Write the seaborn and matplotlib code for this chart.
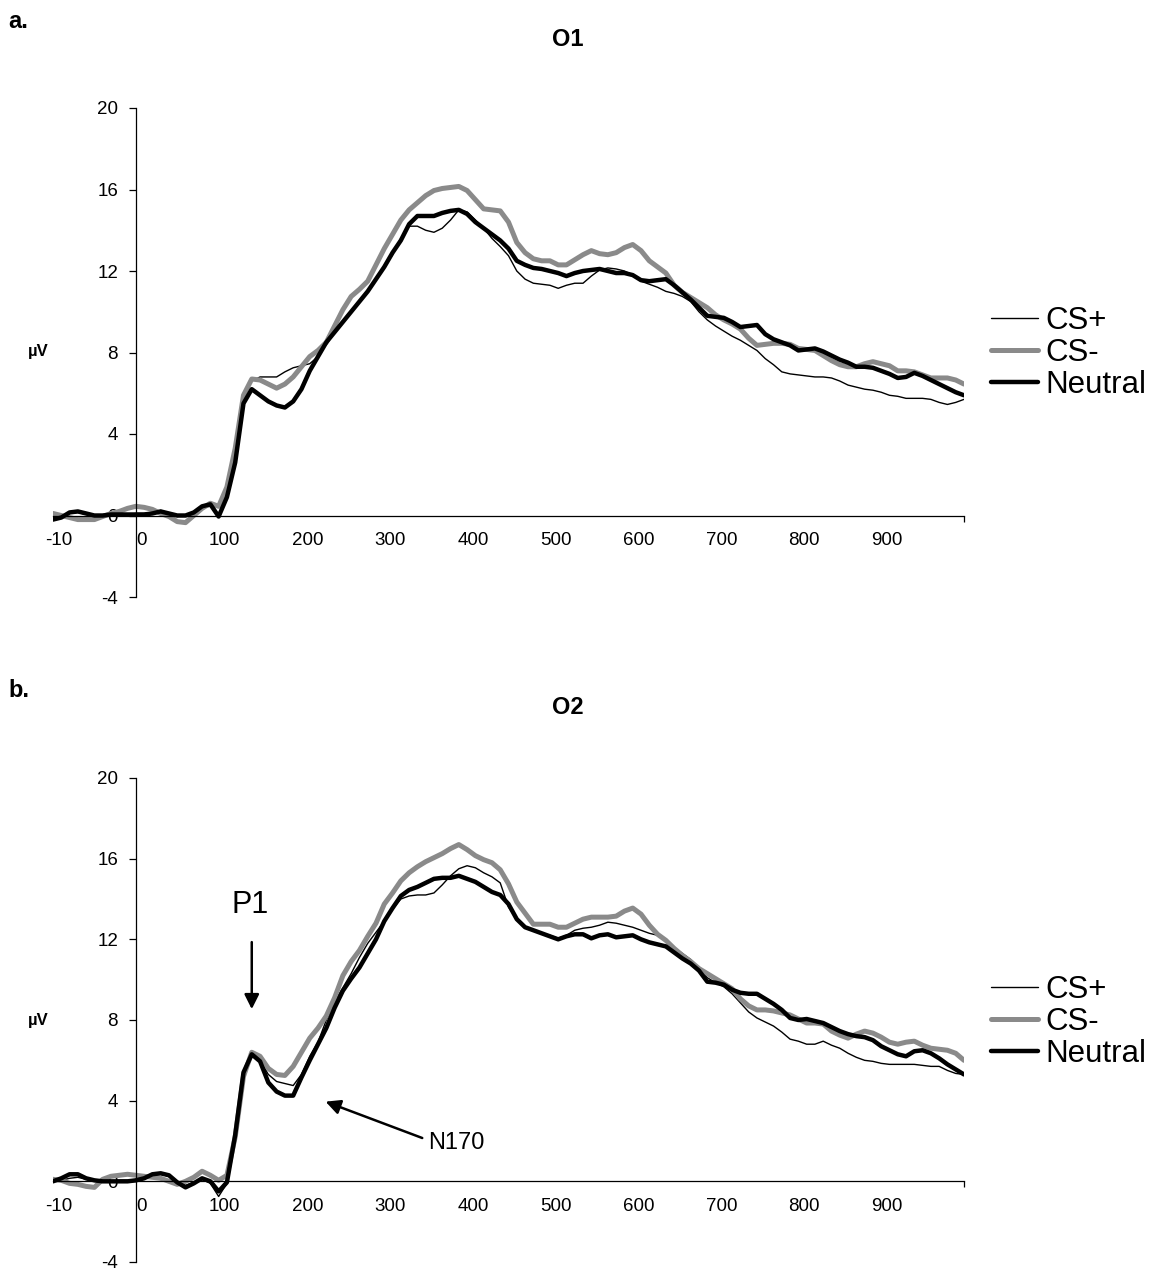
import numpy as np
import pandas as pd
import matplotlib
matplotlib.use("Agg")
import matplotlib.pyplot as plt
import matplotlib.transforms as mtransforms
import seaborn as sns

# time axis in ms (every 10 ms)
time_ms = list(range(-100, 1001, 10))

x_tick_pos = [-100, 0, 100, 200, 300, 400, 500, 600, 700, 800, 900]
x_tick_labels = ["-10", "0", "100", "200", "300", "400", "500", "600", "700", "800", "900"]
y_ticks = [-4, 0, 4, 8, 12, 16, 20]
conditions = ["CS+", "CS-", "Neutral"]

# O1 (panel a), values in microvolts
o1_cs_plus = [
    -0.1, -0.05, 0.1, 0.15, 0.05, 0.0, 0.0, 0.05, 0.05, 0.05,
    0.1, 0.1, 0.15, 0.25, 0.1, -0.05, 0.0, 0.15, 0.4, 0.45,
    0.0, 1.0, 3.0, 6.0, 6.6, 6.8, 6.8, 6.8, 7.05, 7.25,
    7.35, 7.45, 7.8, 8.4, 9.0, 9.5, 10.0, 10.5, 11.0, 11.6,
    12.2, 12.8, 13.6, 14.2, 14.2, 14.0, 13.9, 14.1, 14.5, 15.0,
    14.9, 14.5, 14.1, 13.6, 13.2, 12.75, 12.0, 11.6, 11.4, 11.35,
    11.3, 11.15, 11.3, 11.4, 11.4, 11.75, 12.05, 12.15, 12.1, 12.0,
    11.8, 11.5, 11.35, 11.2, 11.0, 10.9, 10.75, 10.5, 10.0, 9.6,
    9.3, 9.05, 8.8, 8.6, 8.35, 8.1, 7.7, 7.4, 7.05, 6.95,
    6.9, 6.85, 6.8, 6.8, 6.75, 6.6, 6.4, 6.3, 6.2, 6.15,
    6.05, 5.9, 5.85, 5.75, 5.75, 5.75, 5.7, 5.55, 5.45, 5.55,
    5.7,
]
o1_cs_minus = [
    0.1, 0.0, -0.1, -0.2, -0.2, -0.2, -0.05, 0.1, 0.2, 0.35,
    0.45, 0.4, 0.3, 0.1, -0.05, -0.3, -0.35, 0.0, 0.35, 0.6,
    0.45, 1.4, 3.3, 5.9, 6.7, 6.65, 6.45, 6.25, 6.45, 6.8,
    7.3, 7.8, 8.1, 8.5, 9.3, 10.1, 10.75, 11.1, 11.5, 12.3,
    13.1, 13.8, 14.5, 15.0, 15.35, 15.7, 15.95, 16.05, 16.1, 16.15,
    15.95, 15.5, 15.05, 15.0, 14.95, 14.4, 13.4, 12.9, 12.6, 12.5,
    12.5, 12.3, 12.3, 12.55, 12.8, 13.0, 12.85, 12.8, 12.9, 13.15,
    13.3, 13.0, 12.5, 12.2, 11.9, 11.3, 10.95, 10.7, 10.45, 10.2,
    9.85, 9.6, 9.4, 9.15, 8.7, 8.35, 8.4, 8.45, 8.45, 8.4,
    8.2, 8.15, 8.1, 7.85, 7.6, 7.4, 7.3, 7.3, 7.45, 7.55,
    7.45, 7.35, 7.1, 7.1, 7.05, 6.9, 6.75, 6.75, 6.75, 6.65,
    6.45,
]
o1_neutral = [
    -0.2, -0.1, 0.15, 0.2, 0.1, 0.0, 0.0, 0.05, 0.05, 0.05,
    0.05, 0.05, 0.1, 0.2, 0.1, 0.0, 0.0, 0.15, 0.45, 0.55,
    -0.05, 0.9, 2.6, 5.5, 6.2, 5.9, 5.6, 5.4, 5.3, 5.6,
    6.2, 7.1, 7.8, 8.5, 9.0, 9.5, 10.0, 10.5, 11.0, 11.6,
    12.2, 12.9, 13.5, 14.3, 14.7, 14.7, 14.7, 14.85, 14.95, 15.0,
    14.8, 14.4, 14.1, 13.8, 13.5, 13.1, 12.5, 12.3, 12.15, 12.1,
    12.0, 11.9, 11.75, 11.9, 12.0, 12.05, 12.1, 12.0, 11.9, 11.9,
    11.8, 11.55, 11.5, 11.55, 11.6, 11.3, 10.95, 10.6, 10.2, 9.8,
    9.75, 9.7, 9.5, 9.25, 9.3, 9.35, 8.9, 8.65, 8.5, 8.35,
    8.1, 8.15, 8.2, 8.05, 7.85, 7.65, 7.5, 7.3, 7.3, 7.25,
    7.1, 6.95, 6.75, 6.8, 7.0, 6.85, 6.65, 6.45, 6.25, 6.05,
    5.9,
]

# O2 (panel b)
o2_cs_plus = [
    0.0, 0.05, 0.15, 0.2, 0.1, 0.0, 0.0, 0.0, 0.05, 0.05,
    0.05, 0.1, 0.3, 0.35, 0.25, 0.0, -0.2, -0.05, 0.1, -0.1,
    -0.75, -0.1, 2.3, 5.5, 6.3, 6.0, 5.3, 4.95, 4.85, 4.75,
    5.3, 6.2, 6.9, 8.0, 8.9, 9.6, 10.3, 11.1, 11.8, 12.35,
    12.9, 13.5, 14.0, 14.15, 14.2, 14.2, 14.3, 14.7, 15.15, 15.5,
    15.65, 15.55, 15.3, 15.1, 14.8, 13.6, 13.0, 12.6, 12.45, 12.3,
    12.2, 12.05, 12.2, 12.45, 12.55, 12.6, 12.7, 12.85, 12.8, 12.7,
    12.6, 12.45, 12.3, 12.2, 11.9, 11.6, 11.3, 11.0, 10.55, 10.1,
    9.85, 9.65, 9.3, 8.85, 8.4, 8.1, 7.9, 7.7, 7.4, 7.05,
    6.95, 6.8, 6.8, 6.95, 6.75, 6.6, 6.35, 6.15, 6.0, 5.95,
    5.85, 5.8, 5.8, 5.8, 5.8, 5.75, 5.7, 5.7, 5.5, 5.35,
    5.3,
]
o2_cs_minus = [
    0.1, 0.05, -0.1, -0.15, -0.25, -0.3, 0.1, 0.25, 0.3, 0.35,
    0.3, 0.25, 0.2, 0.15, 0.0, -0.15, 0.0, 0.2, 0.5, 0.3,
    0.05, 0.3, 2.2, 5.2, 6.4, 6.2, 5.6, 5.3, 5.25, 5.7,
    6.4, 7.1, 7.6, 8.2, 9.1, 10.2, 10.9, 11.45, 12.15, 12.8,
    13.75, 14.3, 14.9, 15.3, 15.6, 15.85, 16.05, 16.25, 16.5, 16.7,
    16.45, 16.15, 15.95, 15.8, 15.45, 14.75, 13.85, 13.3, 12.75, 12.75,
    12.75, 12.6, 12.6, 12.8, 13.0, 13.1, 13.1, 13.1, 13.15, 13.4,
    13.55, 13.25, 12.7, 12.25, 11.95, 11.55, 11.2, 10.9, 10.55, 10.3,
    10.05, 9.8, 9.55, 9.05, 8.7, 8.5, 8.5, 8.45, 8.35, 8.25,
    8.05, 7.85, 7.85, 7.8, 7.45, 7.25, 7.1, 7.3, 7.45, 7.35,
    7.15, 6.9, 6.8, 6.9, 6.95, 6.75, 6.6, 6.55, 6.5, 6.35,
    6.0,
]
o2_neutral = [
    0.0, 0.15, 0.35, 0.35, 0.15, 0.05, 0.0, 0.0, 0.0, 0.0,
    0.05, 0.15, 0.35, 0.4, 0.3, -0.05, -0.3, -0.1, 0.15, 0.0,
    -0.5, -0.05, 2.3, 5.4, 6.3, 5.95, 4.9, 4.45, 4.25, 4.25,
    5.15, 6.0, 6.8, 7.6, 8.6, 9.45, 10.05, 10.6, 11.3, 12.0,
    12.9, 13.55, 14.15, 14.45, 14.6, 14.8, 15.0, 15.05, 15.05, 15.15,
    15.0, 14.85, 14.6, 14.35, 14.2, 13.75, 13.0, 12.6, 12.45, 12.3,
    12.15, 12.0, 12.15, 12.25, 12.25, 12.05, 12.2, 12.25, 12.1, 12.15,
    12.2, 12.0, 11.85, 11.75, 11.65, 11.35, 11.05, 10.8, 10.45, 9.9,
    9.85, 9.75, 9.5, 9.35, 9.3, 9.3, 9.05, 8.8, 8.5, 8.1,
    8.0, 8.05, 7.95, 7.85, 7.65, 7.45, 7.3, 7.2, 7.15, 7.0,
    6.7, 6.5, 6.3, 6.2, 6.45, 6.5, 6.35, 6.1, 5.8, 5.55,
    5.3,
]

sns.set_theme(style="white")
plt.rcParams["font.family"] = ["Liberation Sans", "DejaVu Sans"]
plt.rcParams["text.color"] = "black"
plt.rcParams["xtick.color"] = "black"
plt.rcParams["ytick.color"] = "black"
plt.rcParams["axes.labelcolor"] = "black"

W, H = 1160, 1272
fig = plt.figure(figsize=(W / 100, H / 100), dpi=100)

styles = {
    "CS+": dict(color="black", lw=1.0),
    "CS-": dict(color="#8a8a8a", lw=3.6),
    "Neutral": dict(color="black", lw=3.2),
}


def px_box(left, top, right, bottom):
    return [left / W, 1 - bottom / H, (right - left) / W, (bottom - top) / H]


def draw_panel(ax, series):
    for name, vals in zip(conditions, series):
        sns.lineplot(x=time_ms, y=vals, ax=ax, label=name, estimator=None,
                     **styles[name])
    ax.set_xlim(-100, 1000)
    ax.set_ylim(-4, 20)
    for s in ["top", "right"]:
        ax.spines[s].set_visible(False)
    ax.spines["left"].set_position(("data", 0))
    ax.spines["bottom"].set_position(("data", 0))
    for s in ["left", "bottom"]:
        ax.spines[s].set_color("black")
        ax.spines[s].set_linewidth(0.9)
    ax.set_yticks(y_ticks)
    ax.set_yticklabels([str(v) for v in y_ticks])
    ax.tick_params(axis="y", length=4.8, width=0.9, direction="out",
                   pad=8, labelsize=13.5, colors="black", left=True)
    ax.set_xticks(x_tick_pos)
    ax.set_xticklabels(x_tick_labels)
    ax.set_xticks(list(range(100, 1001, 100)), minor=True)
    ax.tick_params(axis="x", which="major", length=0, pad=12,
                   labelsize=13.5, colors="black")
    ax.tick_params(axis="x", which="minor", length=4, width=0.9,
                   direction="out", bottom=True, colors="black")
    shift = mtransforms.ScaledTranslation(0.06, 0, fig.dpi_scale_trans)
    for lab in ax.get_xticklabels():
        lab.set_transform(lab.get_transform() + shift)
    ax.set_xlabel("")
    ax.set_ylabel("")
    ax.grid(False)
    ax.set_facecolor("none")


def add_legend(ax, top_px):
    leg = ax.legend(loc="center left", frameon=False, fontsize=22.5,
                    handlelength=1.5, handletextpad=0.25, labelspacing=0.06,
                    borderpad=0, borderaxespad=0,
                    bbox_to_anchor=(991 / W, 1 - top_px / H),
                    bbox_transform=fig.transFigure)
    return leg


# panel a
ax_a = fig.add_axes(px_box(53, 108, 964, 597))
draw_panel(ax_a, [o1_cs_plus, o1_cs_minus, o1_neutral])
add_legend(ax_a, 353)

# panel b
ax_b = fig.add_axes(px_box(53, 778, 964, 1262))
draw_panel(ax_b, [o2_cs_plus, o2_cs_minus, o2_neutral])
add_legend(ax_b, 1022)

# annotations on O2
ax_b.annotate("", xy=(140, 8.4), xytext=(140, 12.0),
              arrowprops=dict(arrowstyle="-|>", color="black", lw=1.8,
                              mutation_scale=22))
ax_b.text(138, 13.7, "P1", ha="center", va="center", fontsize=22)
ax_b.annotate("", xy=(226, 4.0), xytext=(349, 2.1),
              arrowprops=dict(arrowstyle="-|>", color="black", lw=1.8,
                              mutation_scale=22))
ax_b.text(353, 1.9, "N170", ha="left", va="center", fontsize=17)

# panel letters, titles, unit labels
fig.text(8 / W, 1 - 22 / H, "a.", ha="left", va="center",
         fontsize=17, fontweight="bold")
fig.text(8 / W, 1 - 690 / H, "b.", ha="left", va="center",
         fontsize=17, fontweight="bold")
fig.text(568 / W, 1 - 40 / H, "O1", ha="center", va="center",
         fontsize=17, fontweight="bold")
fig.text(568 / W, 1 - 708 / H, "O2", ha="center", va="center",
         fontsize=17, fontweight="bold")
fig.text(38 / W, 1 - 352 / H, "µV", ha="center", va="center",
         fontsize=12, fontweight="bold")
fig.text(38 / W, 1 - 1021 / H, "µV", ha="center", va="center",
         fontsize=12, fontweight="bold")

fig.savefig("out.png", dpi=100, facecolor="white")
